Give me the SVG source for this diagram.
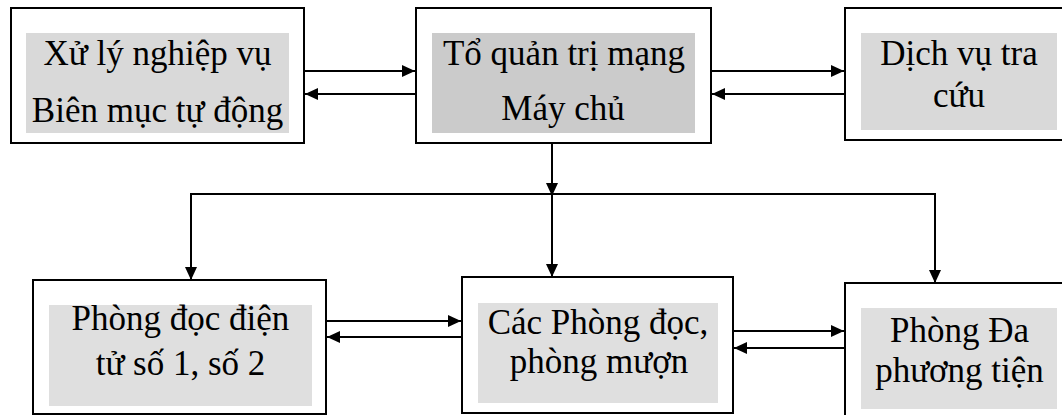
<svg xmlns="http://www.w3.org/2000/svg" width="1062" height="415" viewBox="0 0 1062 415">
<style>
.box{fill:#ffffff;stroke:#000;stroke-width:2}
.g1{fill:#d9d9d9}
.g2{fill:#cbcbcb}
.g3{fill:#dfdfdf}
.t{font-family:"Liberation Serif","Times New Roman",serif;font-size:35px;fill:#000;text-anchor:middle}
.c{fill:none;stroke:#000;stroke-width:2}
</style>
<defs>
<marker id="ah" markerUnits="userSpaceOnUse" markerWidth="14" markerHeight="12" refX="13" refY="6" orient="auto">
<path d="M0,0 L13,6 L0,12 z" fill="#000"/>
</marker>
</defs>
<rect width="1062" height="415" fill="#ffffff"/>
<g id="n1">
<rect class="box" x="11" y="8" width="293" height="135"/>
<rect class="g1" x="26" y="33" width="263" height="100"/>
<text class="t" x="157.5" y="65">Xử lý nghiệp vụ</text>
<text class="t" x="157.5" y="122">Biên mục tự động</text>
</g>
<g id="n2">
<rect class="box" x="416" y="8" width="295" height="135"/>
<rect class="g2" x="432" y="33" width="263" height="100"/>
<text class="t" x="564" y="65">Tổ quản trị mạng</text>
<text class="t" x="563" y="120">Máy chủ</text>
</g>
<g id="n3">
<rect class="box" x="845" y="8" width="220" height="132"/>
<rect class="g1" x="861" y="33" width="196" height="97"/>
<text class="t" x="959" y="65">Dịch vụ tra</text>
<text class="t" x="959" y="107">cứu</text>
</g>
<g id="n4">
<rect class="box" x="33" y="280" width="293" height="134"/>
<rect class="g3" x="49" y="305" width="263" height="101"/>
<text class="t" x="180.5" y="330">Phòng đọc điện</text>
<text class="t" x="180.5" y="375">tử số 1, số 2</text>
</g>
<g id="n5">
<rect class="box" x="462" y="277" width="271" height="136"/>
<rect class="g3" x="478" y="303" width="240" height="100"/>
<text class="t" x="598" y="334">Các Phòng đọc,</text>
<text class="t" x="599" y="373">phòng mượn</text>
</g>
<g id="n6">
<rect class="box" x="845" y="283" width="220" height="140"/>
<rect class="g3" x="861" y="308" width="196" height="101"/>
<text class="t" x="959.5" y="342">Phòng Đa</text>
<text class="t" x="959.5" y="382">phương tiện</text>
</g>
<g id="connectors">
<path class="c" d="M304,71 H415" marker-end="url(#ah)"/>
<path class="c" d="M416,94 H305" marker-end="url(#ah)"/>
<path class="c" d="M711,71 H844" marker-end="url(#ah)"/>
<path class="c" d="M845,94 H712" marker-end="url(#ah)"/>
<path class="c" d="M552,143 V196" marker-end="url(#ah)"/>
<path class="c" d="M552,194 V277" marker-end="url(#ah)"/>
<path class="c" d="M191,280 V194 H935 V283"/>
<path class="c" d="M191,194 V280" marker-end="url(#ah)"/>
<path class="c" d="M935,194 V283" marker-end="url(#ah)"/>
<path class="c" d="M326,321 H461" marker-end="url(#ah)"/>
<path class="c" d="M462,337 H327" marker-end="url(#ah)"/>
<path class="c" d="M733,331 H844" marker-end="url(#ah)"/>
<path class="c" d="M845,348 H734" marker-end="url(#ah)"/>
</g>
</svg>
